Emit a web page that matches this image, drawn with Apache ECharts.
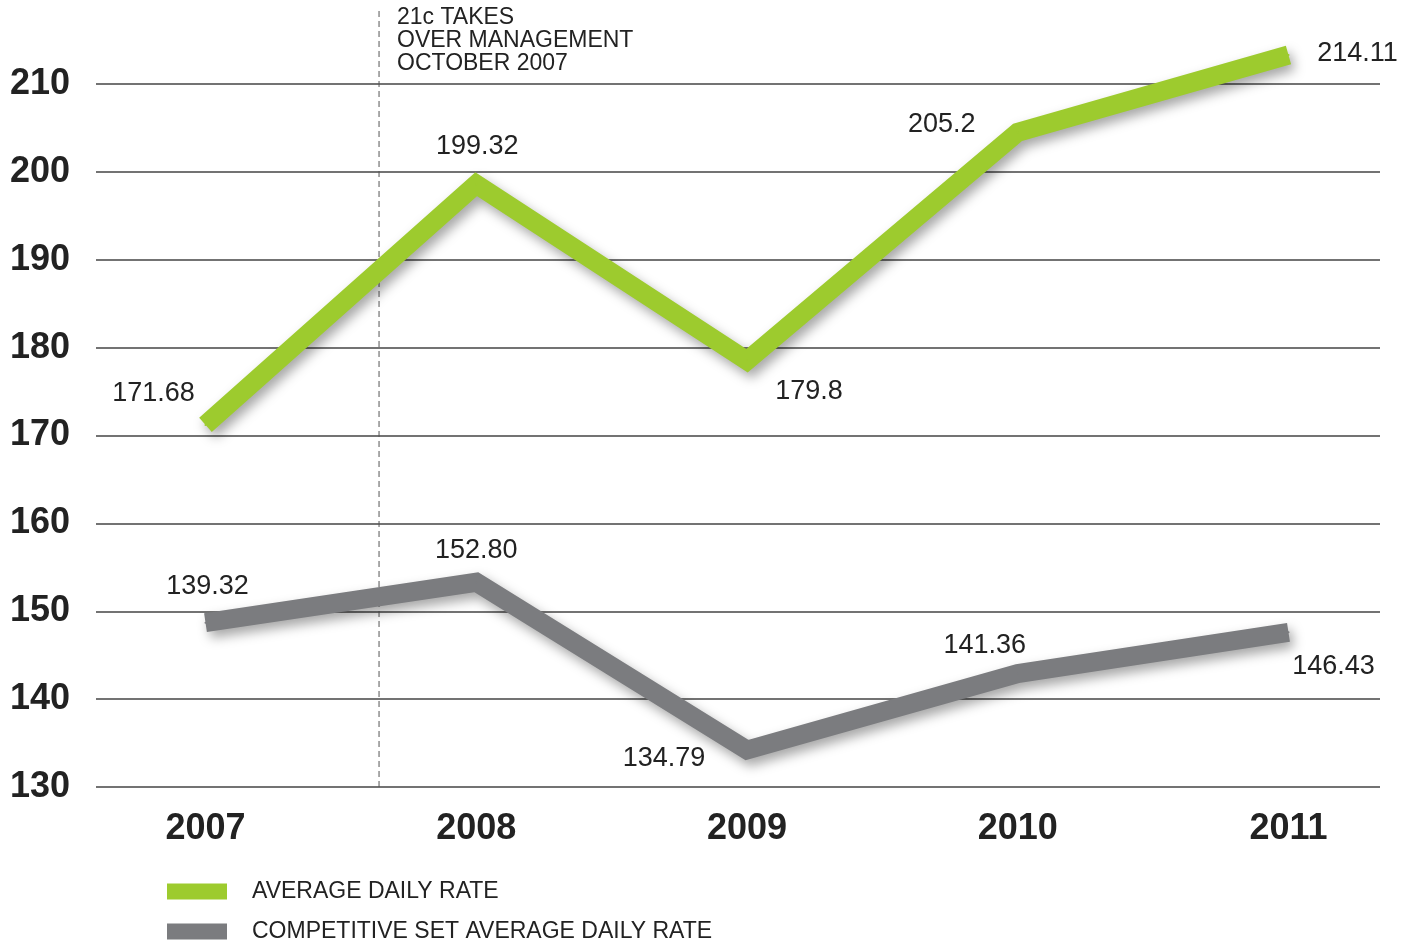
<!DOCTYPE html>
<html lang="en">
<head>
    <meta charset="UTF-8">
    <title>Average Daily Rate</title>
    <script type="text/javascript" src="https://cdn.jsdelivr.net/npm/echarts@6/dist/echarts.min.js"></script>
    <style>
        html, body { margin: 0; padding: 0; background: #fff; }
    </style>
</head>
<body>
<div id="chart" style="width: 1413px;height: 942px"></div>
</body>
<script type="text/javascript">

    // years on the x axis
    var years = [2007, 2008, 2009, 2010, 2011];
    // where the lines are drawn
    var adrValues = [171.2, 198.6, 178.5, 204.5, 213.3];
    var compValues = [148.7, 153.3, 134.2, 142.9, 147.6];
    // the numbers printed next to each point
    var adrLabels = ['171.68', '199.32', '179.8', '205.2', '214.11'];
    var compLabels = ['139.32', '152.80', '134.79', '141.36', '146.43'];
    var yTicks = [130, 140, 150, 160, 170, 180, 190, 200, 210];
    // management change, october 2007
    var takeover = 2007.641;
    var takeoverTop = 218.4;

    // label placement relative to each point (pixels)
    var adrOffsets = [[-52, -31], [1, -38], [62, 31], [-76, -8], [69, -1]];
    var compOffsets = [[2, -36], [0, -32], [-83, 8], [-33, -28], [45, 34]];

    var font = '"Liberation Sans", Arial, Helvetica, sans-serif';

    function buildData(vals, offs) {
        return years.map(function (y, i) {
            return { value: [y, vals[i]], label: { offset: offs[i] } };
        });
    }

    function lineSeries(name, color, vals, labels, offs) {
        return {
            name: name,
            type: 'line',
            data: buildData(vals, offs),
            clip: false,
            symbol: 'circle',
            symbolSize: 2,
            itemStyle: { color: color },
            lineStyle: {
                width: 19,
                color: color,
                cap: 'butt',
                join: 'miter',
                shadowColor: 'rgba(0,0,0,0.35)',
                shadowBlur: 12,
                shadowOffsetX: 4,
                shadowOffsetY: 6
            },
            label: {
                show: true,
                position: 'inside',
                color: '#222',
                fontSize: 27,
                fontFamily: font,
                formatter: function (p) { return labels[p.dataIndex]; }
            },
            emphasis: { disabled: true },
            z: 3
        };
    }

    var myChart = echarts.init(document.getElementById('chart'));
    var option = {
        animation: false,
        grid: { left: 96, right: 33, top: 84, bottom: 155 },
        xAxis: {
            type: 'value',
            min: 2006.5956,
            max: 2011.338,
            axisLine: { show: false },
            axisTick: { show: false },
            splitLine: { show: false },
            axisLabel: {
                customValues: years,
                margin: 24,
                fontSize: 36,
                fontWeight: 'bold',
                color: '#222',
                fontFamily: font,
                formatter: function (v) { return String(v); }
            }
        },
        yAxis: {
            type: 'value',
            min: yTicks[0],
            max: yTicks[yTicks.length - 1],
            interval: 10,
            axisLine: { show: false },
            axisTick: { show: false },
            axisLabel: {
                margin: 26,
                fontSize: 36,
                fontWeight: 'bold',
                color: '#222',
                fontFamily: font
            },
            splitLine: { lineStyle: { color: '#444', width: 1.5 } }
        },
        legend: {
            data: ['AVERAGE DAILY RATE', 'COMPETITIVE SET AVERAGE DAILY RATE'],
            orient: 'vertical',
            left: 167,
            top: 880,
            width: 800,
            height: 300,
            padding: 0,
            icon: 'rect',
            itemWidth: 60,
            itemHeight: 16,
            itemGap: 17,
            itemStyle: { shadowBlur: 0, shadowOffsetX: 0, shadowOffsetY: 0 },
            textStyle: {
                fontSize: 23,
                lineHeight: 16,
                color: '#222',
                fontFamily: font,
                padding: [0, 0, 0, 20]
            }
        },
        graphic: [{
            type: 'text',
            left: 397,
            top: 6,
            style: {
                text: '21c TAKES\nOVER MANAGEMENT\nOCTOBER 2007',
                fontSize: 23,
                lineHeight: 23,
                fill: '#222',
                fontFamily: font
            }
        }],
        series: [
            {
                name: 'takeover',
                type: 'line',
                data: [[takeover, yTicks[0]], [takeover, takeoverTop]],
                clip: false,
                symbol: 'none',
                lineStyle: { color: '#555', width: 1, type: [6, 4] },
                emphasis: { disabled: true },
                z: 1
            },
            lineSeries('COMPETITIVE SET AVERAGE DAILY RATE', '#7b7c7f', compValues, compLabels, compOffsets),
            lineSeries('AVERAGE DAILY RATE', '#9dcb2e', adrValues, adrLabels, adrOffsets)
        ]
    };
    myChart.setOption(option, true);
</script>
</html>
